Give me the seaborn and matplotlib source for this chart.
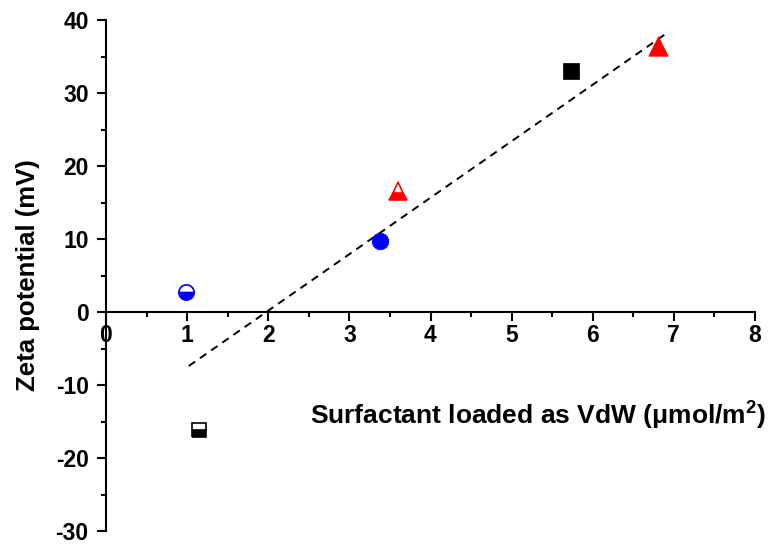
import matplotlib
matplotlib.use("Agg")
import matplotlib.pyplot as plt
import seaborn as sns
import pandas as pd
from matplotlib.ticker import MultipleLocator

# Data
filled_x = [3.38, 5.73, 6.80]
filled_y = [9.7, 33.0, 36.5]
filled_kind = ["circle", "square", "triangle"]

half_x = [0.99, 1.15, 3.60]
half_y = [2.7, -16.1, 16.6]
half_kind = ["circle", "square", "triangle"]

fit_x = [1.02, 6.90]
fit_y = [-7.4, 38.1]

x_ticks = [0, 1, 2, 3, 4, 5, 6, 7, 8]
y_ticks = [-30, -20, -10, 0, 10, 20, 30, 40]

styles = {
    "circle": dict(marker="o", color="#0000ff", ms=12),
    "square": dict(marker="s", color="#000000", ms=11),
    "triangle": dict(marker="^", color="#ff0000", ms=14),
}

sns.set_style("ticks")
plt.rcParams["font.family"] = ["Liberation Sans", "DejaVu Sans"]
plt.rcParams["axes.unicode_minus"] = False
plt.rcParams["mathtext.fontset"] = "custom"
plt.rcParams["mathtext.rm"] = "Liberation Sans:bold"
plt.rcParams["mathtext.bf"] = "Liberation Sans:bold"
for key in ["text.color", "axes.labelcolor", "xtick.color", "ytick.color", "axes.edgecolor"]:
    plt.rcParams[key] = "black"

fig = plt.figure(figsize=(7.75, 5.46), dpi=100)
ax = fig.add_axes([106 / 775, 15 / 546, (755 - 106) / 775, (531 - 20) / 546])

fit_df = pd.DataFrame({"x": fit_x, "y": fit_y})
sns.lineplot(data=fit_df, x="x", y="y", ax=ax, color="black", linestyle=(0, (4, 3)),
             linewidth=1.4, zorder=2)

for x, y, k in zip(filled_x, filled_y, filled_kind):
    st = styles[k]
    sns.scatterplot(x=[x], y=[y], ax=ax, marker=st["marker"], color=st["color"],
                    s=st["ms"] ** 2, edgecolor=st["color"], linewidth=0.5, zorder=3)

for x, y, k in zip(half_x, half_y, half_kind):
    st = styles[k]
    ax.plot([x], [y], linestyle="none", marker=st["marker"], markersize=st["ms"] - 1,
            fillstyle="bottom", markerfacecolor=st["color"], markerfacecoloralt="white",
            markeredgecolor=st["color"], markeredgewidth=1.2, zorder=3)

ax.set_xlim(0, 8)
ax.set_ylim(-30, 40)
ax.spines["top"].set_visible(False)
ax.spines["right"].set_visible(False)
ax.spines["bottom"].set_position(("data", 0))
for sp in ["left", "bottom"]:
    ax.spines[sp].set_linewidth(1.5)
    ax.spines[sp].set_color("black")

ax.set_xticks(x_ticks)
ax.set_yticks(y_ticks)
ax.xaxis.set_minor_locator(MultipleLocator(0.5))
ax.yaxis.set_minor_locator(MultipleLocator(5))
ax.tick_params(which="major", length=6.5, width=1.5, direction="out", labelsize=16.5, colors="black")
ax.tick_params(which="minor", length=3.5, width=1.5, direction="out", colors="black")
ax.tick_params(axis="x", pad=2)
ax.tick_params(axis="y", pad=6)
for lab in ax.get_xticklabels() + ax.get_yticklabels():
    lab.set_fontweight("bold")

ax.set_xlabel("")
ax.set_ylabel("Zeta potential (mV)", fontsize=18.5, fontweight="bold")
ax.yaxis.set_label_coords(-(106 - 40) / 649, 0.5)
ax.text(8.13, -14.1, "Surfactant loaded as VdW (\u03bcmol/m$^{\\mathbf{2}}$)",
        ha="right", va="center", fontsize=19, fontweight="bold", clip_on=False)

fig.savefig("out.png", dpi=100)
